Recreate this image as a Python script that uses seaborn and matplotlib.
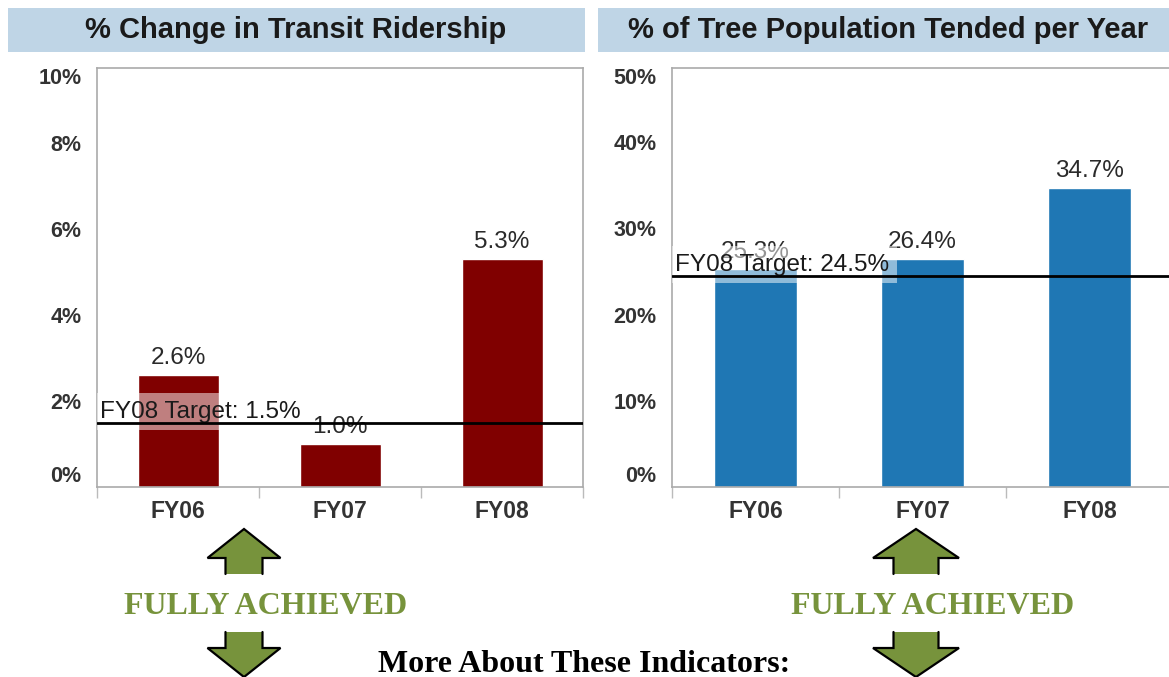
import matplotlib
matplotlib.use("Agg")
import matplotlib.pyplot as plt
from matplotlib.patches import Rectangle, Polygon
import seaborn as sns
import pandas as pd

# data
years = ["FY06", "FY07", "FY08"]
transit_change = [2.6, 1.0, 5.3]
transit_target = 1.5
transit_ticks = [0, 2, 4, 6, 8, 10]
tree_tended = [25.3, 26.4, 34.7]
tree_target = 24.5
tree_ticks = [0, 10, 20, 30, 40, 50]

W, H = 1169, 677

sns.set_style("white")
plt.rcParams["font.family"] = ["Liberation Sans", "DejaVu Sans"]


def frect(x0, y0, x1, y1):
    # pixel box (top-left origin) -> figure fraction
    return [x0 / W, 1 - y1 / H, (x1 - x0) / W, (y1 - y0) / H]


def draw_panel(ax, values, target, ticks, top, color):
    df = pd.DataFrame({"year": years, "value": values})
    sns.barplot(data=df, x="year", y="value", ax=ax, color=color,
                saturation=1, width=0.5, zorder=2)
    ax.set_xlim(-0.5, 2.5)
    ax.set_ylim(0, top)
    # top tick is squeezed inside the frame like in the original
    pos = ticks[:-1] + [top]
    ax.set_yticks(pos)
    ax.set_yticklabels([f"{t}%" for t in ticks], fontsize=15.5,
                       fontweight="bold", color="#333333")
    ax.get_yticklabels()[0].set_va("bottom")
    ax.get_yticklabels()[-1].set_va("top")
    ax.tick_params(axis="y", length=6, width=1, color="#999999", pad=5)
    ax.set_xticks([0, 1, 2])
    ax.set_xticklabels(years, fontsize=16.5, fontweight="bold", color="#333333")
    ax.set_xticks([-0.5, 0.5, 1.5, 2.5], minor=True)
    ax.tick_params(axis="x", which="major", length=0, pad=9)
    ax.tick_params(axis="x", which="minor", length=8, width=1,
                   color="#bbbbbb", bottom=True)
    ax.set_xlabel("")
    ax.set_ylabel("")
    for s in ax.spines.values():
        s.set_color("#aaaaaa")
        s.set_linewidth(1.2)
    for i, v in enumerate(values):
        ax.text(i, v + top * 0.015, f"{v}%", ha="center", va="bottom",
                fontsize=17.5, color="#2a2a2a", zorder=3)
    ax.axhline(target, color="black", lw=2, zorder=5)
    ax.text(-0.48, target, f"FY08 Target: {target}%", ha="left", va="bottom",
            fontsize=17.5, color="#1a1a1a", zorder=4, clip_on=True,
            bbox=dict(boxstyle="square,pad=0.3", fc="white", ec="none", alpha=0.5))


fig = plt.figure(figsize=(W / 100, H / 100), dpi=100)

# overlay for headers and the bottom annotations
deco = fig.add_axes([0, 0, 1, 1])
deco.set_xlim(0, W)
deco.set_ylim(H, 0)
deco.axis("off")

band = "#bfd5e6"
deco.add_patch(Rectangle((8, 8), 577, 44, color=band, lw=0))
deco.add_patch(Rectangle((598, 8), 575, 44, color=band, lw=0))
deco.text(296, 30, "% Change in Transit Ridership", ha="center", va="center",
          fontsize=21, fontweight="bold", color="#1a1a1a")
deco.text(888, 30, "% of Tree Population Tended per Year", ha="center",
          va="center", fontsize=21, fontweight="bold", color="#1a1a1a")

ax1 = fig.add_axes(frect(97, 68, 583, 487))
draw_panel(ax1, transit_change, transit_target, transit_ticks, 9.75, "#800000")

ax2 = fig.add_axes(frect(672, 68, 1173, 487))
draw_panel(ax2, tree_tended, tree_target, tree_ticks, 48.6, "#1f77b4")

green = "#77933c"


def arrow(cx, hw, sw, up):
    if up:
        pts = [(cx - sw, 574), (cx - sw, 558), (cx - hw, 558), (cx, 529),
               (cx + hw, 558), (cx + sw, 558), (cx + sw, 574)]
    else:
        pts = [(cx - sw, 632), (cx - sw, 648), (cx - hw, 648), (cx, 677),
               (cx + hw, 648), (cx + sw, 648), (cx + sw, 632)]
    deco.add_patch(Polygon(pts, closed=True, fc=green, ec="none"))
    xs, ys = zip(*pts)
    deco.plot(xs, ys, color="black", lw=1.6, solid_joinstyle="miter")


for cx, hw, sw in [(244, 36.5, 18.5), (916, 43, 22.5)]:
    arrow(cx, hw, sw, True)
    arrow(cx, hw, sw, False)

serif = ["Liberation Serif", "DejaVu Serif"]
deco.text(266, 606, "FULLY ACHIEVED", ha="center", va="center", fontsize=23,
          fontweight="bold", color=green, family=serif)
deco.text(933, 606, "FULLY ACHIEVED", ha="center", va="center", fontsize=23,
          fontweight="bold", color=green, family=serif)
deco.text(584, 664, "More About These Indicators:", ha="center", va="center",
          fontsize=23, fontweight="bold", color="black", family=serif)

fig.savefig("out.png", dpi=100)
